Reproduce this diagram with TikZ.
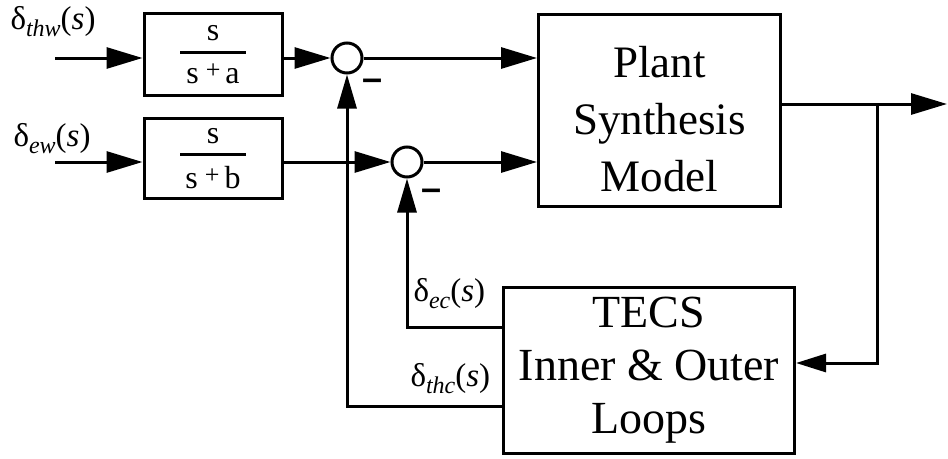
\documentclass[tikz,border=0pt]{standalone}
\usepackage{fontspec}
\setmainfont{Liberation Serif}
\setsansfont{Liberation Sans}
\usetikzlibrary{arrows.meta}
\newcommand\dsub[1]{δ\raisebox{-7pt}{\fontsize{24}{24}\selectfont\itshape #1}(\textit{s})}
\newcommand\tfr[1]{\fontsize{32}{38}\selectfont\vbox{\offinterlineskip\hbox to 66pt{\hss s\hss}\kern10pt\hrule height3pt width66pt\kern10pt\hbox to 66pt{\hss s\hspace{7pt}\raisebox{5pt}{\fontsize{26}{26}\selectfont+}\hspace{5pt}#1\hss}}}
\begin{document}
\begin{tikzpicture}[x=1pt,y=-1pt,line width=3pt,
  blk/.style={draw,line width=3pt,inner sep=0pt},
  sumc/.style={draw,circle,line width=3pt,minimum size=30pt,inner sep=0pt},
  arr/.style={-{Triangle[length=36pt,width=21pt]}},
  varr/.style={-{Triangle[length=34pt,width=19pt]}},
  farr/.style={-{Triangle[length=30pt,width=18pt]}},
  lbl/.style={font=\fontsize{33}{33}\selectfont,inner sep=0pt,anchor=base west},
  minus/.style={font=\fontsize{36}{36}\selectfont\sffamily\bfseries,inner sep=0pt},
  big/.style={font=\fontsize{45}{57}\selectfont,align=center,inner sep=0pt}]
\useasboundingbox (0,0) rectangle (948,458);
% blocks
\node[blk,minimum width=138pt,minimum height=82pt] (A) at (213,54.5) {\tfr{a}};
\node[blk,minimum width=138pt,minimum height=80pt] (B) at (213,158.5) {\tfr{b}};
\node[blk,minimum width=242pt,minimum height=192pt] (P) at (659.5,110.5) {};
\node[big] (Pt) at (659.5,119.5) {Plant\\Synthesis\\Model};
\node[blk,minimum width=291pt,minimum height=166pt,font=\fontsize{46}{53}\selectfont,align=center] (T) at (649,370.5) {TECS\\Inner \& Outer\\Loops};
% summing junctions
\node[sumc] (s1) at (347,58) {};
\node[sumc] (s2) at (407,162) {};
\node[minus] (m1) at (373,85) {–};
\node[minus] (m2) at (432,195) {–};
% labels
\node[lbl] (l1) at (9,29) {\dsub{thw}};
\node[lbl] (l2) at (12,146) {\dsub{ew}};
\node[lbl] (l3) at (412,301) {\dsub{ec}};
\node[lbl] (l4) at (409,386) {\dsub{thc}};
% coordinates
\coordinate (in1) at (55,58);
\coordinate (in2) at (55,162);
\coordinate (yo) at (0,104);
\coordinate (br) at (877,104);
\coordinate (out) at (947,104);
\coordinate (fb) at (877,363);
\coordinate (yec) at (0,327);
\coordinate (yth) at (0,406);
% connectors
\draw[arr] (in1) -- (in1 -| A.west);
\draw[arr] (in2) -- (in2 -| B.west);
\draw[arr] (A.east |- s1) -- (s1.west);
\draw[arr] (B.east |- s2) -- (s2.west);
\draw[arr] (s1.east) -- (s1 -| P.west);
\draw[arr] (s2.east) -- (s2 -| P.west);
\draw[arr] (P.east |- yo) -- (out);
\draw[farr] (br) -- (fb) -- (fb -| T.east);
\draw[varr] (T.west |- yec) -| (s2.south);
\draw[varr] (T.west |- yth) -| (s1.south);
\end{tikzpicture}
\end{document}
